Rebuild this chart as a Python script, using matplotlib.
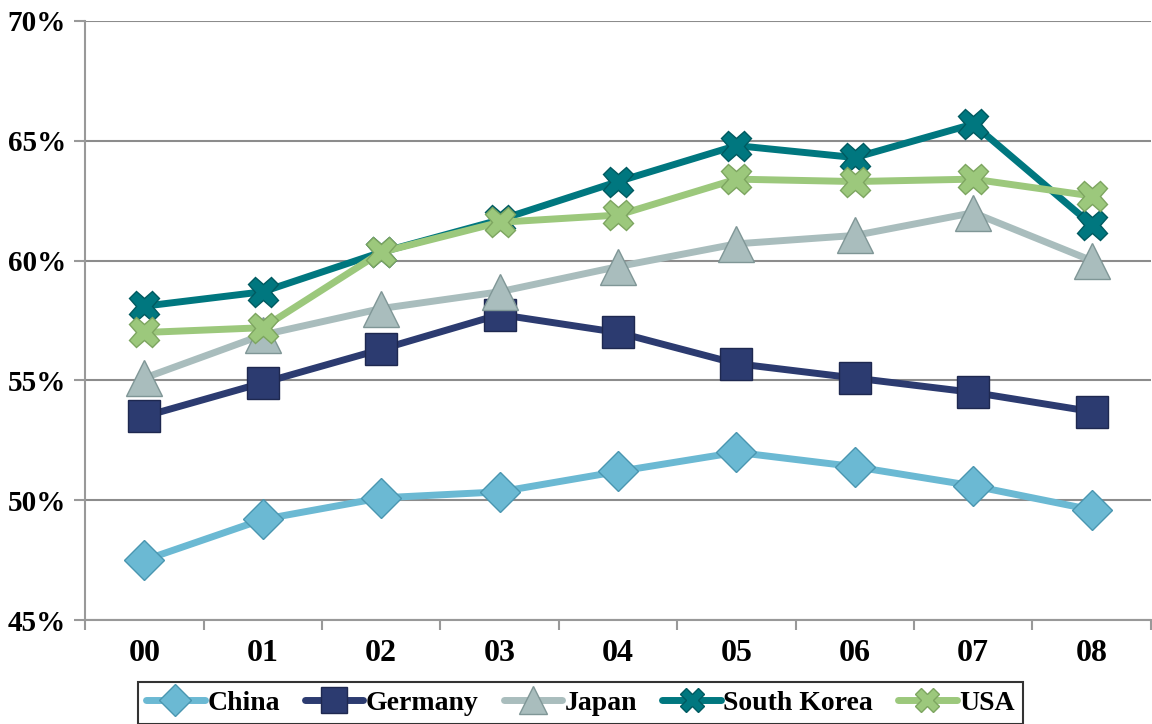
import numpy as np
import matplotlib.pyplot as plt
from matplotlib.ticker import FuncFormatter, FixedLocator

years = ['00', '01', '02', '03', '04', '05', '06', '07', '08']
china = [47.5, 49.2, 50.1, 50.35, 51.2, 52.0, 51.4, 50.6, 49.6]
germany = [53.5, 54.9, 56.3, 57.75, 57.0, 55.7, 55.1, 54.5, 53.7]
japan = [55.1, 56.9, 58.0, 58.7, 59.75, 60.7, 61.05, 62.0, 60.0]
south_korea = [58.1, 58.7, 60.35, 61.7, 63.3, 64.8, 64.3, 65.7, 61.5]
usa = [57.0, 57.2, 60.35, 61.6, 61.9, 63.4, 63.3, 63.4, 62.7]

plt.rcParams['font.family'] = ['Liberation Serif', 'DejaVu Serif']
plt.rcParams['font.weight'] = 'bold'

fig = plt.figure(figsize=(11.52, 7.24), dpi=100)
ax = fig.add_axes([0.074, 0.1436, 0.925, 0.8274])

x = np.arange(len(years))
series = [
    ('China', china, '#6BB9D3', 'D', 20, '#4A96B0'),
    ('Germany', germany, '#2C3B70', 's', 23, '#1E2850'),
    ('Japan', japan, '#A9BDBD', '^', 26, '#7F9696'),
    ('South Korea', south_korea, '#00777F', 'X', 22, '#005A60'),
    ('USA', usa, '#9CC87C', 'X', 22, '#7DA560'),
]
for name, vals, col, mk, ms, edge in series:
    ax.plot(x, vals, color=col, lw=5, marker=mk, markersize=ms,
            markerfacecolor=col, markeredgecolor=edge, markeredgewidth=1,
            label=name, solid_capstyle='round')

ax.set_xlim(-0.5, 8.5)
ax.set_ylim(45, 70)
ax.set_yticks([45, 50, 55, 60, 65, 70])
ax.yaxis.set_major_formatter(FuncFormatter(lambda v, p: '%d%%' % v))
ax.set_xticks(x)
ax.set_xticklabels(years)
ax.xaxis.set_minor_locator(FixedLocator(np.arange(-0.5, 9, 1)))
ax.tick_params(axis='x', which='major', length=0, pad=14, labelsize=23)
ax.tick_params(axis='x', which='minor', length=7, color='#999999', width=1.5)
ax.tick_params(axis='y', length=8, color='#999999', width=1.5, labelsize=21, pad=6)

ax.grid(axis='y', color='#8C8C8C', lw=1.5)
ax.set_axisbelow(True)
for s in ['top', 'right']:
    ax.spines[s].set_visible(False)
for s in ['left', 'bottom']:
    ax.spines[s].set_color('#999999')
    ax.spines[s].set_linewidth(1.5)

leg = fig.legend(loc='upper center', bbox_to_anchor=(0.504, 0.058), ncol=5,
                 fontsize=20, frameon=True, fancybox=False, edgecolor='black',
                 handlelength=2.1, columnspacing=0.9, handletextpad=0.1,
                 borderpad=0.3, borderaxespad=0, markerscale=0.8)
leg.get_frame().set_linewidth(1.5)

fig.savefig('out.png', dpi=100)
